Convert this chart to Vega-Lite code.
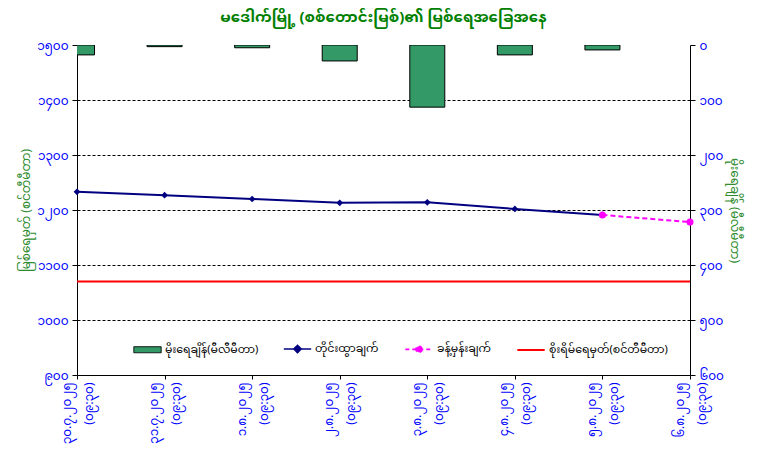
{
  "$schema": "https://vega.github.io/schema/vega-lite/v6.json",
  "autosize": {"type": "none"},
  "padding": {"left": 77, "top": 45, "right": 71, "bottom": 85},
  "width": 613,
  "height": 330,
  "background": "white",
  "title": {"text": "မဒေါက်မြို့ (စစ်တောင်းမြစ်)၏ မြစ်ရေအခြေအနေ", "color": "#008000", "fontSize": 15, "fontWeight": "bold", "offset": 14, "anchor": "middle"},
  "config": {
    "font": "Noto Sans Myanmar, Padauk, Myanmar Text, Noto Sans, sans-serif",
    "view": {"fill": "#ccffff", "stroke": null},
    "axis": {"domainColor": "black", "tickColor": "black", "labelColor": "#0000ff", "labelFontSize": 12, "titleColor": "#2e8b2e", "titleFontSize": 12, "titleFontWeight": "normal", "tickSize": 5},
    "legend": {"orient": "none", "legendX": 56, "legendY": 289, "direction": "horizontal", "labelFontSize": 11, "labelColor": "black", "symbolSize": 750, "columnPadding": 22, "labelOffset": 3, "symbolOpacity": 1}
  },
  "datasets": {
    "main": [
      {"t": "၃၀.၇.၂၀၂၅|(၀၉:၃၀)", "rain": 18, "level": 1233, "forecast": null},
      {"t": "၃၁.၇.၂၀၂၅|(၀၉:၃၀)", "rain": 3, "level": 1227, "forecast": null},
      {"t": "၁.၈.၂၀၂၅|(၀၉:၃၀)", "rain": 5, "level": 1220, "forecast": null},
      {"t": "၂.၈.၂၀၂၅|(၀၉:၃၀)", "rain": 29, "level": 1213, "forecast": null},
      {"t": "၃.၈.၂၀၂၅|(၀၉:၃၀)", "rain": 113, "level": 1214, "forecast": null},
      {"t": "၄.၈.၂၀၂၅|(၀၉:၃၀)", "rain": 18, "level": 1202, "forecast": null},
      {"t": "၅.၈.၂၀၂၅|(၀၉:၃၀)", "rain": 9, "level": 1191, "forecast": 1191},
      {"t": "၆.၈.၂၀၂၅|(၀၉:၃၀)", "rain": null, "level": null, "forecast": 1178}
    ],
    "danger": [{"danger": 1070}],
    "legend": [
      {"series": "မိုးရေချိန်(မီလီမီတာ)"},
      {"series": "တိုင်းထွာချက်"},
      {"series": "ခန့်မှန်းချက်"},
      {"series": "စိုးရိမ်ရေမှတ်(စင်တီမီတာ)"}
    ]
  },
  "resolve": {"scale": {"y": "independent"}},
  "layer": [
    {
      "data": {"name": "main"},
      "mark": {"type": "bar", "width": 35, "clip": true, "fill": "#339966", "stroke": "black", "strokeWidth": 1},
      "encoding": {
        "x": {"field": "t", "type": "nominal", "sort": null, "scale": {"type": "point", "padding": 0},
              "axis": {"title": null, "labelExpr": "split(datum.label,'|')", "labelAngle": 270, "labelAlign": "right", "labelBaseline": "middle", "labelPadding": 3, "labelOffset": -11, "tickSize": 4, "labelLineHeight": 22, "grid": false}},
        "y": {"field": "rain", "type": "quantitative", "scale": {"domain": [0, 600], "reverse": true, "nice": false},
              "axis": {"orient": "right", "title": "မိုးရေချိန် (မီလီမီတာ)", "values": [0, 100, 200, 300, 400, 500, 600], "grid": false, "labelPadding": 4,
                       "labelExpr": "replace(replace(replace(replace(replace(replace(replace(replace(replace(replace(format(datum.value,'d'),regexp('0','g'),'၀'),regexp('1','g'),'၁'),regexp('2','g'),'၂'),regexp('3','g'),'၃'),regexp('4','g'),'၄'),regexp('5','g'),'၅'),regexp('6','g'),'၆'),regexp('7','g'),'၇'),regexp('8','g'),'၈'),regexp('9','g'),'၉')"}}
      }
    },
    {
      "layer": [
        {
          "data": {"name": "danger"},
          "mark": {"type": "rule", "color": "#ff0000", "strokeWidth": 2},
          "encoding": {
            "y": {"field": "danger", "type": "quantitative", "scale": {"domain": [900, 1500], "nice": false},
                  "axis": {"orient": "left", "title": "မြစ်ရေမှတ် (စင်တီမီတာ)", "values": [900, 1000, 1100, 1200, 1300, 1400, 1500], "grid": true, "gridColor": "black", "gridDash": [3, 2], "gridWidth": 1, "labelPadding": 4,
                           "gridOpacity": {"condition": {"test": "datum.value == 900 || datum.value == 1500", "value": 0}, "value": 1},
                           "labelExpr": "replace(replace(replace(replace(replace(replace(replace(replace(replace(replace(format(datum.value,'d'),regexp('0','g'),'၀'),regexp('1','g'),'၁'),regexp('2','g'),'၂'),regexp('3','g'),'၃'),regexp('4','g'),'၄'),regexp('5','g'),'၅'),regexp('6','g'),'၆'),regexp('7','g'),'၇'),regexp('8','g'),'၈'),regexp('9','g'),'၉')"}}
          }
        },
        {
          "data": {"name": "main"},
          "mark": {"type": "line", "strokeWidth": 2, "color": "#000080"},
          "encoding": {
            "x": {"field": "t", "type": "nominal", "sort": null},
            "y": {"field": "level", "type": "quantitative"}
          }
        },
        {
          "data": {"name": "main"},
          "mark": {"type": "point", "shape": "diamond", "filled": true, "size": 45, "opacity": 1, "color": "#000080"},
          "encoding": {
            "x": {"field": "t", "type": "nominal", "sort": null},
            "y": {"field": "level", "type": "quantitative"}
          }
        },
        {
          "data": {"name": "main"},
          "mark": {"type": "line", "strokeWidth": 2, "strokeDash": [5, 3], "color": "#ff00ff"},
          "encoding": {
            "x": {"field": "t", "type": "nominal", "sort": null},
            "y": {"field": "forecast", "type": "quantitative"}
          }
        },
        {
          "data": {"name": "main"},
          "mark": {"type": "point", "shape": "circle", "filled": true, "size": 50, "opacity": 1, "color": "#ff00ff"},
          "encoding": {
            "x": {"field": "t", "type": "nominal", "sort": null},
            "y": {"field": "forecast", "type": "quantitative"}
          }
        }
      ]
    },
    {
      "data": {"name": "legend"},
      "transform": [{"filter": "datum.series === 'none'"}],
      "mark": {"type": "point", "size": 750, "opacity": 1},
      "encoding": {
        "fill": {"field": "series", "type": "nominal", "legend": {"title": null},
          "scale": {"domain": ["မိုးရေချိန်(မီလီမီတာ)", "တိုင်းထွာချက်", "ခန့်မှန်းချက်", "စိုးရိမ်ရေမှတ်(စင်တီမီတာ)"], "range": ["#339966", "#000080", "#ff00ff", "transparent"]}},
        "stroke": {"field": "series", "type": "nominal", "legend": {"title": null},
          "scale": {"domain": ["မိုးရေချိန်(မီလီမီတာ)", "တိုင်းထွာချက်", "ခန့်မှန်းချက်", "စိုးရိမ်ရေမှတ်(စင်တီမီတာ)"], "range": ["#000000", "#000080", "#ff00ff", "#ff0000"]}},
        "shape": {"field": "series", "type": "nominal", "legend": {"title": null},
          "scale": {"domain": ["မိုးရေချိန်(မီလီမီတာ)", "တိုင်းထွာချက်", "ခန့်မှန်းချက်", "စိုးရိမ်ရေမှတ်(စင်တီမီတာ)"], "range": ["M-1,-0.22H1V0.22H-1Z", "M-1,0H1M0,-0.28L0.28,0L0,0.28L-0.28,0Z", "M-1,0H1M0.22,0A0.22,0.22 0 1,1 -0.22,0A0.22,0.22 0 1,1 0.22,0Z", "M-1,0H1"]}},
        "strokeDash": {"field": "series", "type": "nominal", "legend": {"title": null},
          "scale": {"domain": ["မိုးရေချိန်(မီလီမီတာ)", "တိုင်းထွာချက်", "ခန့်မှန်းချက်", "စိုးရိမ်ရေမှတ်(စင်တီမီတာ)"], "range": [[1, 0], [1, 0], [4, 3], [1, 0]]}},
        "strokeWidth": {"field": "series", "type": "nominal", "legend": {"title": null},
          "scale": {"domain": ["မိုးရေချိန်(မီလီမီတာ)", "တိုင်းထွာချက်", "ခန့်မှန်းချက်", "စိုးရိမ်ရေမှတ်(စင်တီမီတာ)"], "range": [1, 2, 2, 2]}}
      }
    }
  ]
}
